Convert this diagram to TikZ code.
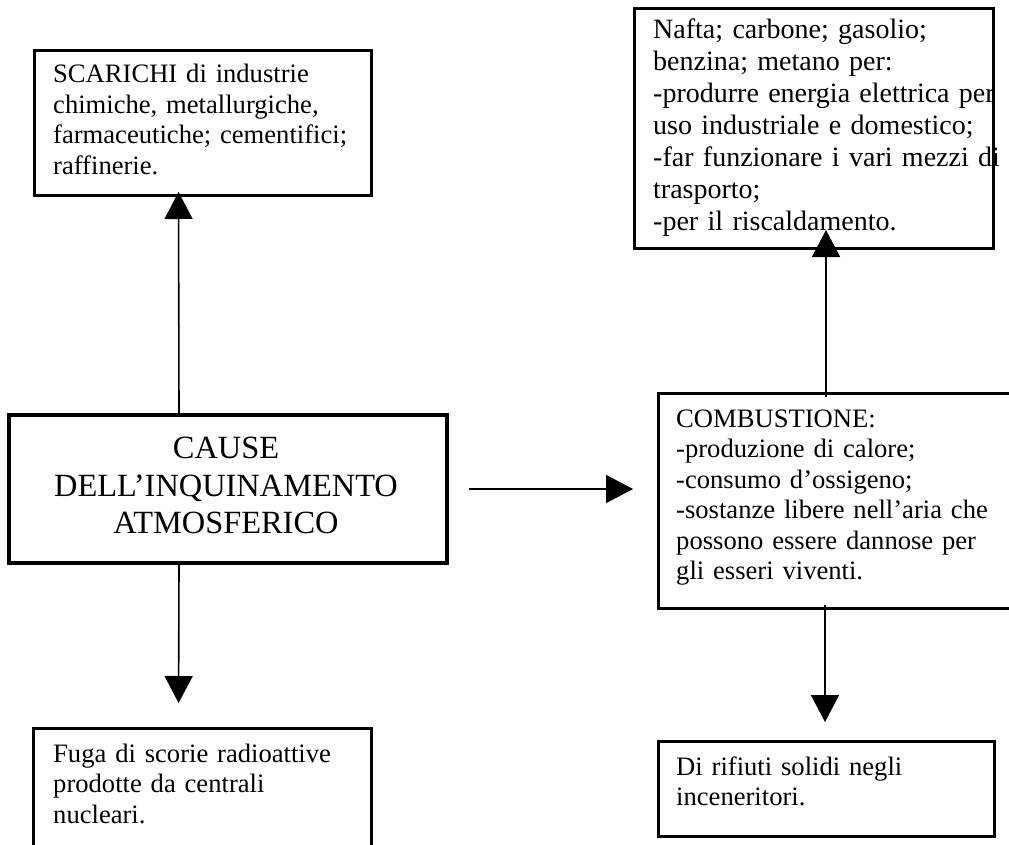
\documentclass[tikz,border=0pt]{standalone}
\usepackage{fontspec}
\setmainfont{Liberation Serif}
\usetikzlibrary{arrows.meta}
\begin{document}
\begin{tikzpicture}[x=1pt,y=-1pt,
  box/.style={draw, line width=3pt, rectangle, inner sep=0pt, anchor=north west},
  txt/.style={anchor=base west, inner sep=0pt, text width=350pt, align=left,
              font=\fontsize{26.6pt}{30.5pt}\selectfont},
  bigtxt/.style={anchor=base, inner sep=0pt, text width=430pt, align=center,
              font=\fontsize{32.4pt}{37.5pt}\selectfont},
  conn/.style={line width=1.6pt, -{Triangle[length=27pt,width=28pt]}}]
\clip (0,0) rectangle (1009,845);
\fill[white] (0,0) rectangle (1009,845);

% boxes
\node[box, minimum width=337pt, minimum height=145pt] (A) at (33,49) {};
\node[box, minimum width=359pt, minimum height=240pt] (B) at (633,7) {};
\node[box, line width=4pt, minimum width=438pt, minimum height=148pt] (C) at (7,413) {};
\node[box, minimum width=370pt, minimum height=215pt] (D) at (657,392) {};
\node[box, minimum width=336pt, minimum height=95pt] (E) at (657,740) {};
\node[box, minimum width=338pt, minimum height=140pt] (F) at (32,727) {};

% texts
\node[txt] (tA) at (53,82.6) {SCARICHI di industrie\\chimiche, metallurgiche,\\farmaceutiche; cementifici;\\raffinerie.};
\node[txt, font=\fontsize{28pt}{32pt}\selectfont] (tB) at (653,39) {Nafta; carbone; gasolio;\\benzina; metano per:\\-produrre energia elettrica per\\uso industriale e domestico;\\-far funzionare i vari mezzi di\\trasporto;\\-per il riscaldamento.};
\node[bigtxt] (tC) at (226,458.5) {CAUSE\\DELL’INQUINAMENTO\\ATMOSFERICO};
\node[txt] (tD) at (676,427) {COMBUSTIONE:\\-produzione di calore;\\-consumo d’ossigeno;\\-sostanze libere nell’aria che\\possono essere dannose per\\gli esseri viventi.};
\node[txt] (tE) at (676,775) {Di rifiuti solidi negli\\inceneritori.};
\node[txt] (tF) at (53,762) {Fuga di scorie radioattive\\prodotte da centrali\\nucleari.};

% connectors
\draw[conn, shorten >=-5pt] ([xshift=-49pt]C.north) -- ([xshift=-24.5pt]A.south);
\draw[conn, shorten <=20pt, shorten >=24pt] (C.east) -- (C.east -| D.west);
\draw[conn, shorten >=24pt] ([xshift=-49pt]C.south) -- ([xshift=-24pt]F.north);
\draw[conn, shorten <=-5pt, shorten >=-20pt] ([xshift=169pt]D.north west) -- ([xshift=193pt]B.south west);
\draw[conn, shorten <=-5pt, shorten >=18pt] ([xshift=168pt]D.south west) -- ([xshift=168pt]E.north west);
\end{tikzpicture}
\end{document}
